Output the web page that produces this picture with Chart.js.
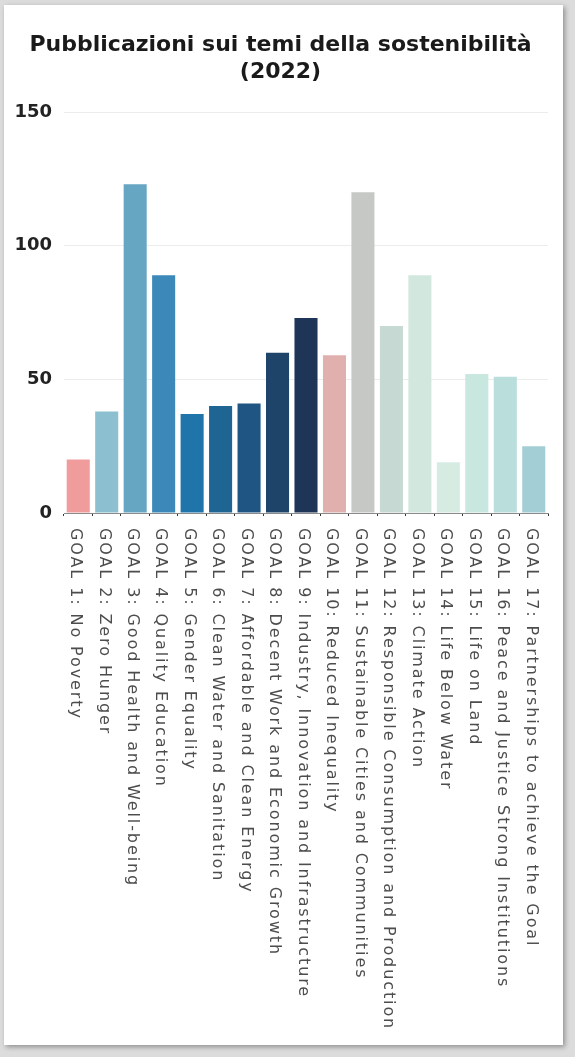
<!DOCTYPE html>
<html>
<head>
<meta charset="utf-8">
<script src="https://cdn.jsdelivr.net/npm/chart.js@4/dist/chart.umd.min.js"></script>
<style>
  html, body { margin: 0; padding: 0; background: #dcdcdc; width: 575px; height: 1057px; overflow: hidden; }
  #box { position: absolute; left: 4px; top: 5px; width: 559px; height: 1040px; background: #fff;
         box-shadow: 2px 2px 5px rgba(0,0,0,0.35); }
  canvas { display: block; }
</style>
</head>
<body>
<div id="box"><canvas id="myChart" width="559" height="1040"></canvas></div>
<script>
const goals = [
  'GOAL 1: No Poverty',
  'GOAL 2: Zero Hunger',
  'GOAL 3: Good Health and Well-being',
  'GOAL 4: Quality Education',
  'GOAL 5: Gender Equality',
  'GOAL 6: Clean Water and Sanitation',
  'GOAL 7: Affordable and Clean Energy',
  'GOAL 8: Decent Work and Economic Growth',
  'GOAL 9: Industry, Innovation and Infrastructure',
  'GOAL 10: Reduced Inequality',
  'GOAL 11: Sustainable Cities and Communities',
  'GOAL 12: Responsible Consumption and Production',
  'GOAL 13: Climate Action',
  'GOAL 14: Life Below Water',
  'GOAL 15: Life on Land',
  'GOAL 16: Peace and Justice Strong Institutions',
  'GOAL 17: Partnerships to achieve the Goal'
];
const pubblicazioni = [20, 38, 123, 89, 37, 40, 41, 60, 73, 59, 120, 70, 89, 19, 52, 51, 25];
const barColors = [
  '#f09c9c', '#8cc0d0', '#67a6c3', '#3b88b9', '#1f75a9', '#1f6594', '#1f5582', '#1f4469', '#1e3558',
  '#dfb0ae', '#c6c8c5', '#c7d9d3', '#d2e8df', '#d6ece2', '#c7e7df', '#b9dedc', '#a4ced6'
];
const yTicks = [0, 50, 100, 150];

// etichette verticali, lette dall'alto verso il basso
const goalLabels = {
  id: 'goalLabels',
  afterDraw(chart) {
    const x = chart.scales.x;
    const c = chart.ctx;
    c.save();
    c.font = '16px "DejaVu Sans"';
    c.fillStyle = '#4d4d4d';
    c.textAlign = 'left';
    c.textBaseline = 'middle';
    c.letterSpacing = '1.9px';
    goals.forEach((g, i) => {
      c.save();
      c.translate(x.getPixelForValue(i) - 3, x.top + 15);
      c.rotate(Math.PI / 2);
      c.fillText(g, 0, 0);
      c.restore();
    });
    c.restore();
  }
};

new Chart(document.getElementById('myChart'), {
  type: 'bar',
  data: {
    labels: goals,
    datasets: [{
      label: 'Pubblicazioni',
      data: pubblicazioni,
      backgroundColor: barColors,
      barPercentage: 0.81,
      categoryPercentage: 1
    }]
  },
  options: {
    responsive: false,
    animation: false,
    layout: { padding: { top: 27, right: 15, left: 9, bottom: 0 } },
    plugins: {
      legend: { display: false },
      tooltip: { enabled: false },
      title: {
        display: true,
        text: ['Pubblicazioni sui temi della sostenibilità', '(2022)'],
        color: '#1a1a1a',
        font: { family: '"DejaVu Sans"', size: 22, weight: 'bold', lineHeight: 1.23 },
        padding: { top: 0, bottom: 26 }
      }
    },
    scales: {
      x: {
        afterFit: s => { s.height = 532; },
        border: { display: true, color: '#8a8a8a', width: 1 },
        grid: { display: true, drawOnChartArea: false, drawTicks: true, tickLength: 3, color: '#333', offset: true },
        ticks: { display: false }
      },
      y: {
        min: 0,
        max: 150,
        afterFit: s => { s.width = 51; },
        afterBuildTicks: s => { s.ticks = yTicks.map(v => ({ value: v })); },
        border: { display: false },
        grid: { color: '#ececec', drawTicks: false },
        ticks: {
          padding: 12,
          color: '#222',
          font: { family: '"DejaVu Sans"', size: 18, weight: 'bold' }
        }
      }
    }
  },
  plugins: [goalLabels]
});
</script>
</body>
</html>
